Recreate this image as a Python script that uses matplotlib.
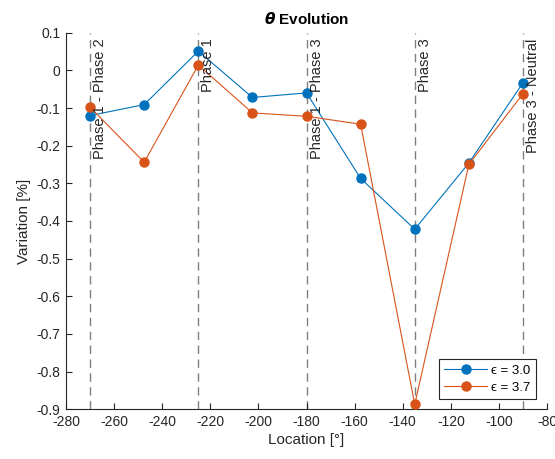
import matplotlib.pyplot as plt
from matplotlib import transforms

plt.rcParams['font.family'] = ['Liberation Sans', 'DejaVu Sans']
plt.rcParams['mathtext.fontset'] = 'dejavusans'
plt.rcParams['axes.unicode_minus'] = False

# Locations along the path [deg] and variation for each epsilon
location = [-270, -247.5, -225, -202.5, -180, -157.5, -135, -112.5, -90]
var_eps30 = [-0.120, -0.091, 0.051, -0.072, -0.060, -0.287, -0.422, -0.246, -0.033]
var_eps37 = [-0.098, -0.244, 0.014, -0.113, -0.122, -0.143, -0.887, -0.250, -0.062]

phase_x = [-270, -225, -180, -135, -90]
phase_labels = ['Phase 1 - Phase 2', 'Phase 1', 'Phase 1 - Phase 3', 'Phase 3', 'Phase 3 - Neutral']

fig = plt.figure(figsize=(5.55, 4.59), dpi=100)
ax = fig.add_axes([0.119, 0.1083, 0.8666, 0.8205])

blue = '#0072BD'
orange = '#D95319'

ax.plot(location, var_eps30, '-o', color=blue, lw=0.8, ms=6.5, label='ϵ = 3.0', zorder=3)
ax.plot(location, var_eps37, '-o', color=orange, lw=0.8, ms=6.5, label='ϵ = 3.7', zorder=3)

# phase boundaries
txt_tr = transforms.offset_copy(ax.transData, fig=fig, x=3, y=0, units='dots')
for xv, lab in zip(phase_x, phase_labels):
    ax.axvline(xv, color='#7f7f7f', lw=1.0, ls=(0, (6, 4)), zorder=1)
    ax.text(xv, 0.084, lab, rotation=90, ha='left', va='top', fontsize=10.5,
            color='#262626', transform=txt_tr)

ax.set_xlim(-280, -80)
ax.set_ylim(-0.9, 0.1)
ax.set_xticks(range(-280, -79, 20))
ax.set_yticks([0.1, 0, -0.1, -0.2, -0.3, -0.4, -0.5, -0.6, -0.7, -0.8, -0.9])
ax.set_yticklabels(['0.1', '0', '-0.1', '-0.2', '-0.3', '-0.4', '-0.5', '-0.6', '-0.7', '-0.8', '-0.9'])

for s in ['top', 'right']:
    ax.spines[s].set_visible(False)
for s in ['left', 'bottom']:
    ax.spines[s].set_color('#262626')
    ax.spines[s].set_linewidth(0.8)
ax.tick_params(direction='in', length=4, width=0.8, colors='#262626', labelsize=10, pad=4)

ax.set_xlabel('Location [°]', fontsize=11, color='#262626', labelpad=3)
ax.set_ylabel('Variation [%]', fontsize=11, color='#262626', labelpad=4)
ax.set_title(r'$\boldsymbol{\theta}$ Evolution', fontsize=11, fontweight='bold', pad=6)

leg = ax.legend(loc='lower right', bbox_to_anchor=(0.977, 0.027), borderaxespad=0,
                fontsize=9.5, fancybox=False, framealpha=1, edgecolor='#262626',
                handlelength=3.3, borderpad=0.4, labelspacing=0.35, handletextpad=0.3)
leg.get_frame().set_linewidth(0.8)

fig.savefig('out.png', dpi=100)
